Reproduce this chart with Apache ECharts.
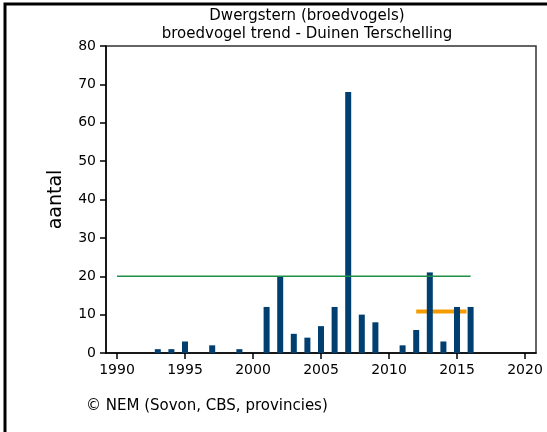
<!DOCTYPE html>
<html>
<head>
<meta charset="utf-8">
<script src="https://cdn.jsdelivr.net/npm/echarts@6/dist/echarts.min.js"></script>
<style>
  html, body { margin: 0; padding: 0; background: #fff; }
  #chart { width: 547px; height: 432px; }
</style>
</head>
<body>
<div id="chart"></div>
<script>
// counts per year (Dwergstern, Duinen Terschelling)
const years = [1993, 1994, 1995, 1997, 1999, 2001, 2002, 2003, 2004, 2005, 2006, 2007, 2008, 2009, 2011, 2012, 2013, 2014, 2015, 2016];
const counts = [1, 1, 3, 2, 1, 12, 20, 5, 4, 7, 12, 68, 10, 8, 2, 6, 21, 3, 12, 12];
// reference level (green) and recent mean (orange)
const refYears = [1990, 2016];
const refValue = 20;
const meanYears = [2012, 2015.7];
const meanValue = 10.8;
const yearMin = 1990;
const yearMax = 2020;
const yearStep = 5;

const font = 'DejaVu Sans';
const black = '#000';

const chart = echarts.init(document.getElementById('chart'));

// grid 0 = the framed plot box with the y axis, grid 1 = the 1990-2020 year scale inside it
const option = {
    animation: false,
    textStyle: { fontFamily: font },
    grid: [
        {
            left: 106, top: 46, right: 11, bottom: 79,
            show: true, borderColor: '#333', borderWidth: 1.5
        },
        { left: 117, top: 46, right: 22, bottom: 79 }
    ],
    title: {
        text: 'Dwergstern (broedvogels)\nbroedvogel trend - Duinen Terschelling',
        left: 302,
        top: 2,
        textAlign: 'center',
        textStyle: {
            fontFamily: font,
            fontSize: 15,
            fontWeight: 'normal',
            color: black,
            lineHeight: 18
        }
    },
    xAxis: [
        {
            gridIndex: 0,
            type: 'value',
            min: 0,
            max: 1,
            splitLine: { show: false },
            axisTick: { show: false },
            axisLabel: { show: false },
            axisLine: { lineStyle: { color: black, width: 1.5 } }
        },
        {
            gridIndex: 1,
            type: 'value',
            min: yearMin,
            max: yearMax,
            interval: yearStep,
            splitLine: { show: false },
            axisLine: { show: true, lineStyle: { color: 'rgba(0,0,0,0)' } },
            axisTick: { show: true, length: 6, lineStyle: { color: black, width: 1.5 } },
            axisLabel: {
                formatter: v => String(v),
                color: black,
                fontSize: 14,
                margin: 10
            }
        }
    ],
    yAxis: [
        {
            gridIndex: 0,
            type: 'value',
            min: 0,
            max: 80,
            interval: 10,
            name: 'aantal',
            nameLocation: 'middle',
            nameRotate: 90,
            nameGap: 40,
            nameTextStyle: { fontSize: 19, color: black, fontFamily: font },
            splitLine: { show: false },
            axisLine: { lineStyle: { color: black, width: 1.5 } },
            axisTick: { length: 6, lineStyle: { color: black, width: 1.5 } },
            axisLabel: { color: black, fontSize: 14, margin: 10 }
        },
        {
            gridIndex: 1,
            type: 'value',
            min: 0,
            max: 80,
            show: false
        }
    ],
    series: [
        {
            type: 'line',
            xAxisIndex: 1,
            yAxisIndex: 1,
            data: meanYears.map(y => [y, meanValue]),
            symbol: 'none',
            lineStyle: { color: '#f59c00', width: 4 },
            z: 2
        },
        {
            type: 'bar',
            xAxisIndex: 1,
            yAxisIndex: 1,
            data: years.map((y, i) => [y, counts[i]]),
            barWidth: 6,
            itemStyle: { color: '#003f6f' },
            z: 3
        },
        {
            type: 'line',
            xAxisIndex: 1,
            yAxisIndex: 1,
            data: refYears.map(y => [y, refValue]),
            symbol: 'none',
            lineStyle: { color: '#1f8f45', width: 1.5 },
            z: 4
        }
    ],
    graphic: [
        {
            type: 'polyline',
            shape: { points: [[5, 432], [5, 4], [547, 4]] },
            style: { stroke: black, lineWidth: 3, fill: null }
        },
        {
            type: 'text',
            left: 86,
            top: 399,
            style: {
                text: '© NEM (Sovon, CBS, provincies)',
                font: '15px "DejaVu Sans"',
                fill: black
            }
        }
    ]
};

chart.setOption(option);
</script>
</body>
</html>
